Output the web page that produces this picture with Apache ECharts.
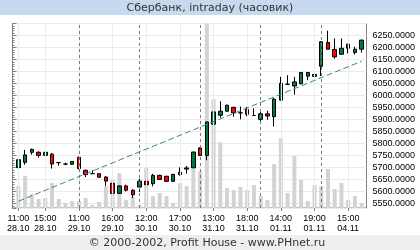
<!DOCTYPE html>
<html><head><meta charset="utf-8">
<script src="https://cdn.jsdelivr.net/npm/echarts@6/dist/echarts.min.js"></script>
<style>html,body{margin:0;padding:0;background:#fff}#c{width:420px;height:250px}</style>
</head><body><div id="c"></div>
<script>
const categories = [
 "11:00\n28.10","12:00\n28.10","13:00\n28.10","14:00\n28.10","15:00\n28.10","16:00\n28.10","17:00\n28.10","18:00\n28.10","19:00\n28.10",
 "11:00\n29.10","12:00\n29.10","13:00\n29.10","14:00\n29.10","15:00\n29.10","16:00\n29.10","17:00\n29.10","18:00\n29.10","19:00\n29.10",
 "11:00\n30.10","12:00\n30.10","13:00\n30.10","14:00\n30.10","15:00\n30.10","16:00\n30.10","17:00\n30.10","18:00\n30.10","19:00\n30.10",
 "11:00\n31.10","12:00\n31.10","13:00\n31.10","14:00\n31.10","15:00\n31.10","16:00\n31.10","17:00\n31.10","18:00\n31.10","19:00\n31.10",
 "11:00\n01.11","12:00\n01.11","13:00\n01.11","14:00\n01.11","15:00\n01.11","16:00\n01.11","17:00\n01.11","18:00\n01.11","19:00\n01.11",
 "11:00\n04.11","12:00\n04.11","13:00\n04.11","14:00\n04.11","15:00\n04.11","16:00\n04.11","17:00\n04.11"
];
const opens  = [5700,5722,5764,5764,5751,5756,5721,5715,5714, 5743,5689,5675,5675,5661,5635,5593,5624,5606, 5619,5643,5633,5668,5664,5643,5671,5699,5699, 5782,5751,5881,5918,5935,5951,5928,5942,5917, 5901,5924,5912,5981,6047,6040,6049,6081,6080, 6122,6221,6192,6172,6197,6179,6193];
const highs  = [5738,5774,5779,5768,5768,5761,5723,5721,5727, 5746,5692,5689,5676,5664,5640,5626,5629,5610, 5654,5661,5674,5670,5666,5674,5701,5707,5766, 5785,5892,5939,5976,5962,5953,5954,5953,5947, 5932,5937,5990,6078,6085,6078,6098,6098,6100, 6226,6270,6238,6238,6215,6203,6232];
const lows   = [5630,5712,5754,5742,5735,5696,5708,5710,5713, 5693,5661,5673,5659,5624,5585,5591,5601,5574, 5599,5612,5622,5650,5641,5641,5667,5675,5698, 5748,5731,5821,5908,5933,5912,5901,5914,5915, 5893,5899,5871,5980,6045,6004,6047,6064,6033, 6081,6192,6154,6172,6175,6171,6179];
const closes = [5733,5753,5776,5751,5764,5715,5721,5715,5726, 5696,5671,5675,5660,5644,5593,5624,5606,5587, 5644,5629,5668,5651,5643,5672,5681,5694,5765, 5751,5890,5932,5935,5960,5928,5928,5922,5917, 5924,5915,5985,6051,6047,6057,6096,6096,6088, 6224,6193,6161,6197,6214,6193,6231];
const volumes = [22,32,14,9,10,25,9,5,7, 7,10,3,6,22,28,35,8,11, 3,40,12,15,12,5,25,22,39, 37,185,109,66,20,18,21,18,23, 12,8,44,70,15,52,28,7,23, 22,39,19,25,8,12,5];
const trendStart = 5560, trendEnd = 6143;
const priceMin = 5532, priceMax = 6300;

const labelIdx = i => i === 0 || i % 5 === 4;
const dayStarts = categories.map((c,i)=>[c,i]).filter(([c,i])=> i>0 && c.startsWith("11:00")).map(([c])=>c);
const gridCats = categories.filter((c,i)=>labelIdx(i));
const font = 'Liberation Sans, Arial, sans-serif';

const chart = echarts.init(document.getElementById('c'), null, {renderer:'canvas'});
chart.setOption({
  animation: false,
  graphic: [
    {type:'rect', shape:{x:0,y:0,width:420,height:15}, style:{fill:'#c6d9ef'}, z:-10},
    {type:'text', x:210, y:8, style:{text:'Сбербанк, intraday (часовик)', font:'11px DejaVu Sans', fill:'#333', align:'center', verticalAlign:'middle'}},
    {type:'rect', shape:{x:0,y:235,width:420,height:15}, style:{fill:'#eeeeee'}, z:-10},
    {type:'text', x:207, y:243, style:{text:'© 2000-2002, Profit House - www.PHnet.ru', font:'11px DejaVu Sans', fill:'#333', align:'center', verticalAlign:'middle'}}
  ],
  grid: [
    {left:12.5, top:23.5, width:354, height:184.5, show:true, borderColor:'#808080', borderWidth:1, backgroundColor:'transparent'},
    {left:15, top:23.5, width:350, height:184.5, show:false}
  ],
  xAxis: [
    {gridIndex:0, type:'value', show:false, min:0, max:1},
    {gridIndex:1, type:'category', data:categories, boundaryGap:true,
     axisLine:{show:false},
     axisTick:{show:true, alignWithLabel:true, interval:(i)=>labelIdx(i), length:3, lineStyle:{color:'#808080'}},
     axisLabel:{interval:(i)=>labelIdx(i), fontFamily:font, fontSize:9, color:'#000', margin:6, lineHeight:10},
     splitLine:{show:false}}
  ],
  yAxis: [
    {gridIndex:0, type:'value', position:'right', min:priceMin, max:priceMax, splitNumber:15,
     axisLine:{show:true, lineStyle:{color:'#808080'}},
     axisTick:{show:true, length:4, lineStyle:{color:'#808080'}},
     minorTick:{show:true, splitNumber:5, length:2, lineStyle:{color:'#808080'}},
     splitLine:{show:true, lineStyle:{color:'#ebebeb', width:1}},
     axisLabel:{showMinLabel:false, showMaxLabel:false, fontFamily:font, fontSize:9, color:'#000', margin:6, formatter:v=>v.toFixed(4)}},
    {gridIndex:1, type:'value', show:false, min:priceMin, max:priceMax},
    {gridIndex:1, type:'value', show:false, min:0, max:185}
  ],
  series: [
    {type:'line', xAxisIndex:1, yAxisIndex:1, data:[], z:1, silent:true,
     markLine:{symbol:['none','none'], silent:true, label:{show:false}, lineStyle:{color:'#ebebeb', type:'solid', width:1},
       data: gridCats.map(c=>({xAxis:c}))}},
    {type:'bar', xAxisIndex:1, yAxisIndex:2, data:volumes, barWidth:4, itemStyle:{color:'#d3d3d3'}, silent:true, z:2},
    {type:'candlestick', xAxisIndex:1, yAxisIndex:1, barWidth:4, z:4,
     data: opens.map((o,i)=>[o, closes[i], lows[i], highs[i]]),
     itemStyle:{color:'#007a3d', color0:'#ff0000', borderColor:'#000', borderColor0:'#000', borderColorDoji:'#000', borderWidth:1},
     markLine:{symbol:['none','none'], silent:true, label:{show:false}, lineStyle:{color:'#7a7a7a', type:[3,3], width:1},
       data: dayStarts.map(c=>({xAxis:c}))}},
    {type:'line', xAxisIndex:1, yAxisIndex:1, data:[[0,trendStart],[categories.length-1,trendEnd]], symbol:'none', z:5,
     lineStyle:{color:'#3b8585', type:[6,3], width:1}}
  ]
});
</script></body></html>
